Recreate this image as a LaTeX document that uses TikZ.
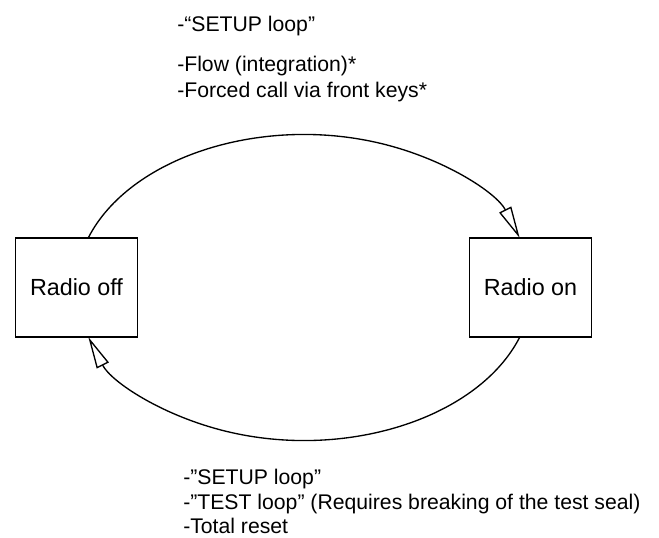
\documentclass[tikz,border=0pt]{standalone}
\usepackage{fontspec}
\setmainfont{Liberation Sans}
\usetikzlibrary{arrows.meta}
\begin{document}
\begin{tikzpicture}[x=0.75pt,y=0.75pt,
  statebox/.style={draw, line width=1.3pt, minimum width=91.5pt, minimum height=74.25pt, inner sep=0pt, font=\fontsize{17.5}{20}\selectfont},
  loopline/.style={line width=1pt},
  opentip/.style={-{Triangle[open, length=24pt, width=10pt, line width=1pt]}},
  lbl/.style={anchor=base west, inner sep=0pt, font=\fontsize{15.9}{19}\selectfont}]
\useasboundingbox (0,0) rectangle (659,537);
\node[statebox] (off) at (76.5,249.5) {Radio off};
\node[statebox] (on) at (530.5,249.5) {Radio on};
\coordinate (offtop) at (88.2,299);
\coordinate (ontop) at (519.8,299);
\coordinate (onbot) at (519.8,200);
\coordinate (offbot) at (88.2,200);
\draw[loopline, opentip] (offtop) arc[start angle=161.13, end angle=18.87, x radius=228, y radius=153];
\draw[loopline, opentip] (onbot) arc[start angle=-18.87, end angle=-161.13, x radius=228, y radius=153];
\node[lbl] (t1) at (177,505) {-“SETUP loop”};
\node[lbl] (t2) at (177,466) {-Flow (integration)*};
\node[lbl] (t3) at (177,440) {-Forced call via front keys*};
\node[lbl] (b1) at (183,53) {-”SETUP loop”};
\node[lbl] (b2) at (183,28) {-”TEST loop” (Requires breaking of the test seal)};
\node[lbl] (b3) at (183,4) {-Total reset};
\end{tikzpicture}
\end{document}
